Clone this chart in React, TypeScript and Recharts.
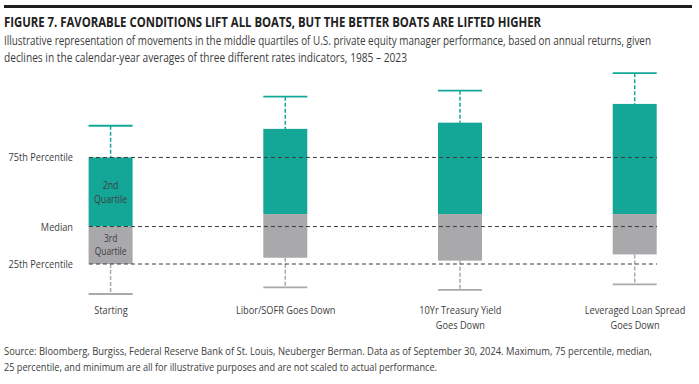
import React from 'react';
import { ComposedChart, Bar, XAxis, YAxis, ReferenceLine } from 'recharts';

const categories = ['Starting', 'Libor/SOFR Goes Down', '10Yr Treasury Yield Goes Down', 'Leveraged Loan Spread Goes Down'];
const tickLines = [['Starting'], ['Libor/SOFR Goes Down'], ['10Yr Treasury Yield', 'Goes Down'], ['Leveraged Loan Spread', 'Goes Down']];
const minVals = [2.5, 5.3, 4.2, 6.5];
const q1Vals = [15.0, 17.6, 16.4, 19.0];
const medianVals = [30.6, 35.8, 35.8, 35.8];
const q3Vals = [59.4, 71.3, 73.9, 81.7];
const maxVals = [72.6, 84.7, 87.2, 94.5];
const percentileLabels = ['25th Percentile', 'Median', '75th Percentile'];
const percentileVals = [q1Vals[0], medianVals[0], q3Vals[0]];

const TITLE = 'FIGURE 7. FAVORABLE CONDITIONS LIFT ALL BOATS, BUT THE BETTER BOATS ARE LIFTED HIGHER';
const SUBTITLE_LINES = [
  'Illustrative representation of movements in the middle quartiles of U.S. private equity manager performance, based on annual returns, given',
  'declines in the calendar-year averages of three different rates indicators, 1985 \u2013 2023',
];
const SOURCE_LINES = [
  'Source: Bloomberg, Burgiss, Federal Reserve Bank of St. Louis, Neuberger Berman. Data as of September 30, 2024. Maximum, 75 percentile, median,',
  '25 percentile, and minimum are all for illustrative purposes and are not scaled to actual performance.',
];

const data = categories.map((name, i) => ({
  idx: i,
  name,
  range: [minVals[i], maxVals[i]],
  min: minVals[i],
  q1: q1Vals[i],
  median: medianVals[i],
  q3: q3Vals[i],
  max: maxVals[i],
}));

const FONT = "'Open Sans', 'DejaVu Sans', sans-serif";
const TEAL = '#14a797';
const GRAY = '#a9a9ab';
const TEXT = '#3d3d3d';
const SQ = 0.8;

const W = 699;
const H = 384;
const BAR_SIZE = 44;
const Y_AXIS_W = 76;
const M_RIGHT = 29;
const X_DOMAIN: [number, number] = [-0.2, 3.2];
const UNIT_PX = (W - Y_AXIS_W - M_RIGHT) / (X_DOMAIN[1] - X_DOMAIN[0]);
const HALF = BAR_SIZE / 2 / UNIT_PX;

const SqText = ({ x, y, anchor = 'middle', size = 11.5, fill = TEXT, children }: any) => (
  <text
    transform={`translate(${x},${y}) scale(${SQ},1)`}
    textAnchor={anchor}
    fontFamily={FONT}
    fontSize={size}
    fill={fill}
  >
    {children}
  </text>
);

const BoxShape = (props: any) => {
  const { x, y, width, height, payload, index } = props;
  const top = Math.min(y, y + height);
  const h = Math.abs(height);
  const lo = payload.min;
  const hi = payload.max;
  const py = (v: number) => top + ((hi - v) / (hi - lo)) * h;
  const cx = x + width / 2;
  const yMax = py(payload.max);
  const yQ3 = py(payload.q3);
  const yMed = py(payload.median);
  const yQ1 = py(payload.q1);
  const yMin = py(payload.min);
  return (
    <g>
      <line x1={cx} x2={cx} y1={yMax} y2={yQ3} stroke={TEAL} strokeWidth={1.5} strokeDasharray="4 2" />
      <line x1={x} x2={x + width} y1={yMax} y2={yMax} stroke={TEAL} strokeWidth={1.8} />
      <line x1={cx} x2={cx} y1={yQ1} y2={yMin} stroke={GRAY} strokeWidth={1.5} strokeDasharray="4 2" />
      <line x1={x} x2={x + width} y1={yMin} y2={yMin} stroke={GRAY} strokeWidth={1.8} />
      <rect x={x} y={yQ3} width={width} height={yMed - yQ3} fill={TEAL} />
      <rect x={x} y={yMed} width={width} height={yQ1 - yMed} fill={GRAY} />
      {index === 0 && (
        <g>
          <SqText x={cx} y={(yQ3 + yMed) / 2 - 3} size={11}>2nd</SqText>
          <SqText x={cx} y={(yQ3 + yMed) / 2 + 11} size={11}>Quartile</SqText>
          <SqText x={cx} y={(yMed + yQ1) / 2 - 3.5} size={10.5}>3rd</SqText>
          <SqText x={cx} y={(yMed + yQ1) / 2 + 10} size={10.5}>Quartile</SqText>
        </g>
      )}
    </g>
  );
};

const XTick = (props: any) => {
  const { x, y, payload } = props;
  const lines = tickLines[payload.value] || [];
  return (
    <g>
      {lines.map((l, i) => (
        <SqText key={i} x={x} y={y + 12 + i * 14.5}>
          {l}
        </SqText>
      ))}
    </g>
  );
};

const YTick = (props: any) => {
  const { x, y, payload } = props;
  const i = percentileVals.indexOf(payload.value);
  return (
    <SqText x={x} y={y + 4} anchor="end">
      {percentileLabels[i]}
    </SqText>
  );
};

const FitText = ({ x, y, len, size, weight = 'normal', fill = TEXT, children }: any) => (
  <text
    x={x}
    y={y}
    textLength={len}
    lengthAdjust="spacingAndGlyphs"
    fontFamily={FONT}
    fontSize={size}
    fontWeight={weight}
    fill={fill}
  >
    {children}
  </text>
);

export default function App() {
  return (
    <div style={{ position: 'absolute', left: 0, top: 0, width: W, height: H, background: '#fff' }}>
      <div style={{ position: 'absolute', left: 0, top: 0 }}>
        <ComposedChart width={W} height={H} data={data} margin={{ top: 60, right: M_RIGHT, bottom: 54, left: 0 }}>
          <XAxis
            type="number"
            dataKey="idx"
            domain={X_DOMAIN}
            ticks={[0, 1, 2, 3]}
            axisLine={false}
            tickLine={false}
            tickSize={0}
            tick={<XTick />}
            height={30}
            interval={0}
          />
          <YAxis
            type="number"
            domain={[0, 100]}
            ticks={percentileVals}
            axisLine={false}
            tickLine={false}
            tickSize={0}
            tickMargin={3}
            tick={<YTick />}
            width={Y_AXIS_W}
            interval={0}
          />
          <Bar dataKey="range" barSize={BAR_SIZE} shape={<BoxShape />} isAnimationActive={false} />
          {percentileVals.map((v, i) => (
            <ReferenceLine
              key={i}
              segment={[{ x: 0 - HALF, y: v }, { x: categories.length - 1 + HALF, y: v }]}
              stroke="#3a3a3a"
              strokeWidth={1}
              strokeDasharray="4 3"
            />
          ))}
        </ComposedChart>
      </div>
      <svg width={W} height={H} style={{ position: 'absolute', left: 0, top: 0, pointerEvents: 'none' }}>
        <rect x={4} y={5} width={688} height={3} fill="#1e1e1e" />
        <FitText x={4} y={27} len={537} size={14.5} weight="bold" fill="#222">{TITLE}</FitText>
        <FitText x={4} y={44.5} len={647} size={12.5}>{SUBTITLE_LINES[0]}</FitText>
        <FitText x={4} y={61.5} len={403} size={12.5}>{SUBTITLE_LINES[1]}</FitText>
        <FitText x={4} y={355} len={648} size={11.5}>{SOURCE_LINES[0]}</FitText>
        <FitText x={4} y={371} len={433} size={11.5}>{SOURCE_LINES[1]}</FitText>
      </svg>
    </div>
  );
}
